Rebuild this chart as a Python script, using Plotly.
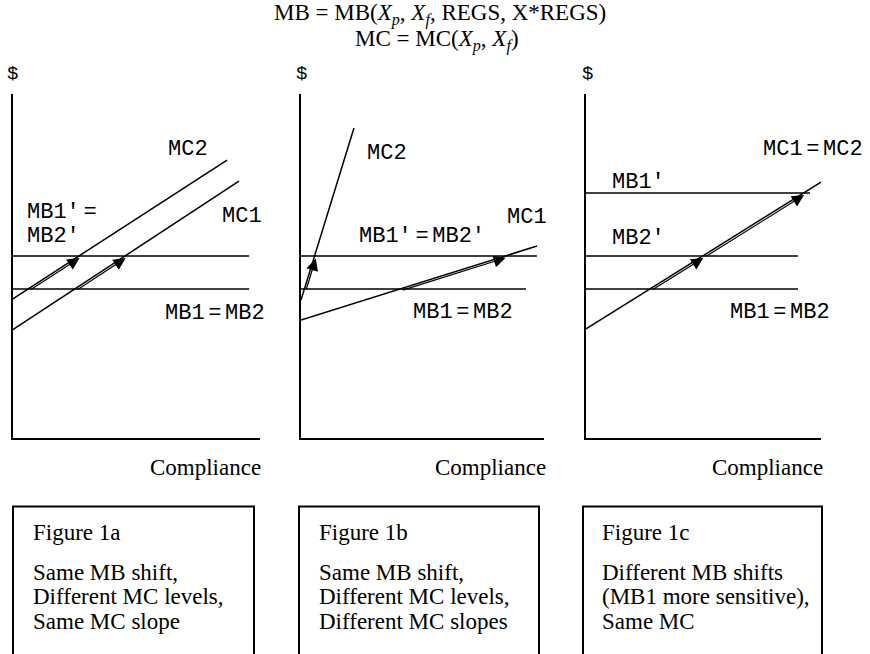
import plotly.graph_objects as go

W, H = 870, 654

# ---------------- data (diagram units: axis spans 0..10 on both axes) ----------------
panels = ["a", "b", "c"]

# MB levels (horizontal lines): level and right extent
mb_a_levels = [4.33, 5.29]
mb_a_xend = [9.56, 9.56]
mb_b_levels = [4.33, 5.29]
mb_b_xend = [9.26, 9.71]
mb_c_levels = [4.33, 5.29, 7.12]
mb_c_xend = [9.02, 9.02, 9.53]

# MC curves (endpoints x, y)
mc1_a_x = [0.0, 9.15]
mc1_a_y = [3.14, 7.47]
mc2_a_x = [0.0, 8.67]
mc2_a_y = [4.04, 8.08]
mc1_b_x = [0.0, 9.71]
mc1_b_y = [3.43, 5.58]
mc2_b_x = [0.0, 2.18]
mc2_b_y = [4.01, 9.01]
mc_c_x = [0.0, 10.0]
mc_c_y = [3.17, 7.44]

# ---------------- layout helpers ----------------
def px(x):
    return x / W

def py(y):
    return 1 - y / H

AX_TOP, AX_BOT = 94, 438
x_domains = {"a": (12.5, 260), "b": (301, 544), "c": (586, 821)}

fig = go.Figure()

LINE = dict(color="black", width=1.5)
MONO = dict(family="Liberation Mono, Courier New, monospace", size=22, color="black")
SERIF = dict(family="Liberation Serif, Times New Roman, serif", size=23, color="black")

axis_ids = {"a": ("x", "y"), "b": ("x2", "y2"), "c": ("x3", "y3")}

def add_mb(p, levels, xend):
    xr, yr = axis_ids[p]
    for lv, xe in zip(levels, xend):
        fig.add_trace(go.Scatter(x=[0, xe], y=[lv, lv], mode="lines", line=LINE,
                                 xaxis=xr, yaxis=yr, hoverinfo="skip", showlegend=False))

def add_mc(p, xs, ys):
    xr, yr = axis_ids[p]
    fig.add_trace(go.Scatter(x=xs, y=ys, mode="lines", line=LINE,
                             xaxis=xr, yaxis=yr, hoverinfo="skip", showlegend=False))

def x_at(xs, ys, level):
    return xs[0] + (level - ys[0]) * (xs[1] - xs[0]) / (ys[1] - ys[0])

annotations = []

def add_arrow(p, xs, ys, lo, hi):
    xr, yr = axis_ids[p]
    x0, x1 = x_at(xs, ys, lo), x_at(xs, ys, hi)
    annotations.append(dict(x=x1, y=hi, ax=x0, ay=lo, xref=xr, yref=yr,
                            axref=xr, ayref=yr, text="", showarrow=True,
                            arrowhead=2, arrowsize=2.0, arrowwidth=1.2,
                            arrowcolor="black", xshift=1.5, yshift=-1.5,
                            standoff=1))

# Panel a
add_mb("a", mb_a_levels, mb_a_xend)
add_mc("a", mc2_a_x, mc2_a_y)
add_mc("a", mc1_a_x, mc1_a_y)
add_arrow("a", mc2_a_x, mc2_a_y, mb_a_levels[0], mb_a_levels[1])
add_arrow("a", mc1_a_x, mc1_a_y, mb_a_levels[0], mb_a_levels[1])

# Panel b
add_mb("b", mb_b_levels, mb_b_xend)
add_mc("b", mc2_b_x, mc2_b_y)
add_mc("b", mc1_b_x, mc1_b_y)
add_arrow("b", mc2_b_x, mc2_b_y, mb_b_levels[0], mb_b_levels[1])
add_arrow("b", mc1_b_x, mc1_b_y, mb_b_levels[0], mb_b_levels[1])

# Panel c
add_mb("c", mb_c_levels, mb_c_xend)
add_mc("c", mc_c_x, mc_c_y)
add_arrow("c", mc_c_x, mc_c_y, mb_c_levels[0], mb_c_levels[1])
add_arrow("c", mc_c_x, mc_c_y, mb_c_levels[1], mb_c_levels[2])

# axes
ax_common = dict(range=[0, 10], showgrid=False, zeroline=False, showticklabels=False,
                 ticks="", showline=True, linecolor="black", linewidth=2, fixedrange=True)
layout_axes = {}
for i, p in enumerate(panels):
    sfx = "" if i == 0 else str(i + 1)
    x0, x1 = x_domains[p]
    layout_axes["xaxis" + sfx] = dict(ax_common, domain=[px(x0), px(x1)],
                                       anchor="y" + sfx)
    layout_axes["yaxis" + sfx] = dict(ax_common, domain=[py(AX_BOT), py(AX_TOP)],
                                       anchor="x" + sfx)

def txt(text, x, y, font, xanchor="center"):
    annotations.append(dict(text=text, x=px(x), y=py(y), xref="paper", yref="paper",
                            showarrow=False, font=font, xanchor=xanchor, yanchor="middle"))

sp = "<span style='font-size:6px'> </span>"
eq = sp + "=" + sp

# curve labels
txt("MC2", 188, 149, MONO)
txt("MC1", 242, 216, MONO)
txt("MB1′" + eq, 25, 212, MONO, "left")
txt("MB2′", 25, 237, MONO, "left")
txt("MB1" + eq + "MB2", 215, 313, MONO)

txt("MC2", 387, 153, MONO)
txt("MC1", 527, 218, MONO)
txt("MB1′" + eq + "MB2′", 422, 237, MONO)
txt("MB1" + eq + "MB2", 463, 312, MONO)

txt("MC1" + eq + "MC2", 813, 150, MONO)
txt("MB1′", 610, 182, MONO, "left")
txt("MB2′", 610, 238, MONO, "left")
txt("MB1" + eq + "MB2", 780, 312, MONO)

# $ labels
for xa in (12.5, 301, 587):
    txt("$", xa, 74, dict(MONO, size=19))

# Compliance labels
for xc in (205, 490, 767):
    txt("Compliance", xc, 467, SERIF)

# title
txt("MB = MB(<i>X<sub>p</sub></i>, <i>X<sub>f</sub></i>, REGS, X*REGS)", 440, 14, SERIF)
txt("MC = MC(<i>X<sub>p</sub></i>, <i>X<sub>f</sub></i>)", 437, 40, SERIF)

# boxes
shapes = []
boxes = [(13, 254), (299, 539), (583, 822)]
for (bx0, bx1) in boxes:
    shapes.append(dict(type="rect", xref="paper", yref="paper",
                       x0=px(bx0), x1=px(bx1), y0=py(670), y1=py(506.5),
                       line=dict(color="black", width=2), fillcolor="rgba(0,0,0,0)"))

box_texts = [
    ("Figure 1a", ["Same MB shift,", "Different MC levels,", "Same MC slope"], 31),
    ("Figure 1b", ["Same MB shift,", "Different MC levels,", "Different MC slopes"], 317),
    ("Figure 1c", ["Different MB shifts", "(MB1 more sensitive),", "Same MC"], 600),
]
for head, lines, bx in box_texts:
    txt(head, bx, 532, SERIF, "left")
    for j, ln in enumerate(lines):
        txt(ln, bx, 572 + j * 24.5, SERIF, "left")

fig.update_layout(
    width=W, height=H,
    margin=dict(l=0, r=0, t=0, b=0),
    paper_bgcolor="white", plot_bgcolor="rgba(0,0,0,0)",
    showlegend=False,
    annotations=annotations,
    shapes=shapes,
    **layout_axes,
)

fig.write_html("out.html", config={"displayModeBar": False},
               post_script="document.body.style.margin='0';document.body.style.overflow='hidden';")
